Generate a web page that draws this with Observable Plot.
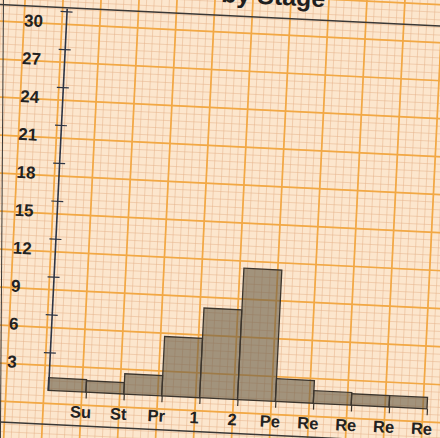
<!DOCTYPE html>
<html>
<head>
<meta charset="utf-8">
<script src="https://cdn.jsdelivr.net/npm/d3@7"></script>
<script src="https://cdn.jsdelivr.net/npm/@observablehq/plot@0.6"></script>
<style>
  html, body { margin: 0; padding: 0; width: 440px; height: 438px; overflow: hidden; background: #fce6cd; }
  #chart { position: absolute; left: -30px; top: -31px; width: 500px; height: 500px; }
  #chart svg { transform: rotate(2.8deg); transform-origin: 250px 250px; overflow: hidden; }
  #edge { position: absolute; left: 3px; top: -5px; width: 0; height: 450px; border-left: 1.6px solid #3a3836;
          transform: rotate(0.4deg); transform-origin: 0 0; }
</style>
</head>
<body>
<div id="chart"></div>
<div id="edge"></div>
<script>
// ---- data ----
const title = "by Stage";
const stageLabels = ["Su", "St", "Pr", "1", "2", "Pe", "Re", "Re", "Re", "Re"];
const stageValues = [1.0, 0.9, 1.6, 4.7, 7.1, 10.4, 1.8, 1.0, 0.9, 0.9];
const yTicks = [3, 6, 9, 12, 15, 18, 21, 24, 27, 30];

// graph-paper grid (decoration, in data units)
const vMinor = d3.range(-2.6, 11.2, 0.2).map(v => v - 0.12);
const vMajor = d3.range(-3, 12, 1).map(v => v - 0.12);
const hMinor = d3.range(-6.5, 36, 0.6).map(v => v + 0.1);
const hMajor = d3.range(-6.5, 36, 3).map(v => v + 2.5);

const bars = stageValues.map((v, i) => ({i, v}));
const bounds = stageLabels.map((d, i) => i + 1);

const font = "'Liberation Sans', Arial, sans-serif";

const chart = Plot.plot({
  width: 500,
  height: 500,
  margin: 0,
  x: {domain: [-2.2825, 10.896], axis: null},
  y: {domain: [-5.573, 33.953], axis: null},
  style: {background: "transparent", fontFamily: font},
  marks: [
    Plot.ruleX(vMinor, {x: d => d, stroke: "#e6b48c", strokeWidth: 0.7, strokeOpacity: 0.75}),
    Plot.ruleY(hMinor, {y: d => d, stroke: "#e6b48c", strokeWidth: 0.7, strokeOpacity: 0.75}),
    Plot.ruleX(vMajor, {x: d => d, stroke: "#f2a844", strokeWidth: 1.7}),
    Plot.ruleY(hMajor, {y: d => d, stroke: "#f2a844", strokeWidth: 1.7}),
    // page frame lines (top and bottom)
    Plot.frame({stroke: "#3a3836", strokeWidth: 1.4, insetLeft: -40, insetTop: 46, insetBottom: 37, insetRight: -40}),
    // title (mostly cut off at the top, as in the photo)
    Plot.text([title], {frameAnchor: "top-left", dx: 344, dy: 15, textAnchor: "end", text: d => d,
      fontSize: 25, fontWeight: "bold", fill: "#1e1e1e"}),
    // bars
    Plot.rectY(bars, {x1: d => d.i, x2: d => d.i + 1, y: d => d.v,
      fill: "#6b5f4a", fillOpacity: 0.62, stroke: "#3b342c", strokeWidth: 1.3}),
    // boundary ticks below baseline
    Plot.ruleX(bounds, {x: d => d, y1: -0.5, y2: 0, stroke: "#3b342c", strokeWidth: 1.2}),
    // y axis line and cross ticks
    Plot.ruleX([0], {x: d => d, y1: 0, y2: d3.max(yTicks) + 0.2, stroke: "#2d3444", strokeWidth: 1.6}),
    Plot.ruleY(yTicks, {y: d => d, x1: 0, x2: 0, insetLeft: -6, insetRight: -6, stroke: "#2d3444", strokeWidth: 1.2}),
    // y labels
    Plot.text(yTicks, {x: 0, y: d => d, text: d => String(d), dx: -42.6, dy: 11, textAnchor: "start",
      fontSize: 17, fontWeight: "bold", fill: "#222"}),
    // x labels
    Plot.text(stageLabels, {x: (d, i) => i + 1, y: 0, text: d => d, dx: -5, dy: 20,
      fontSize: 16.5, fontWeight: "bold", fill: "#222"})
  ]
});
document.getElementById("chart").appendChild(chart);
</script>
</body>
</html>
